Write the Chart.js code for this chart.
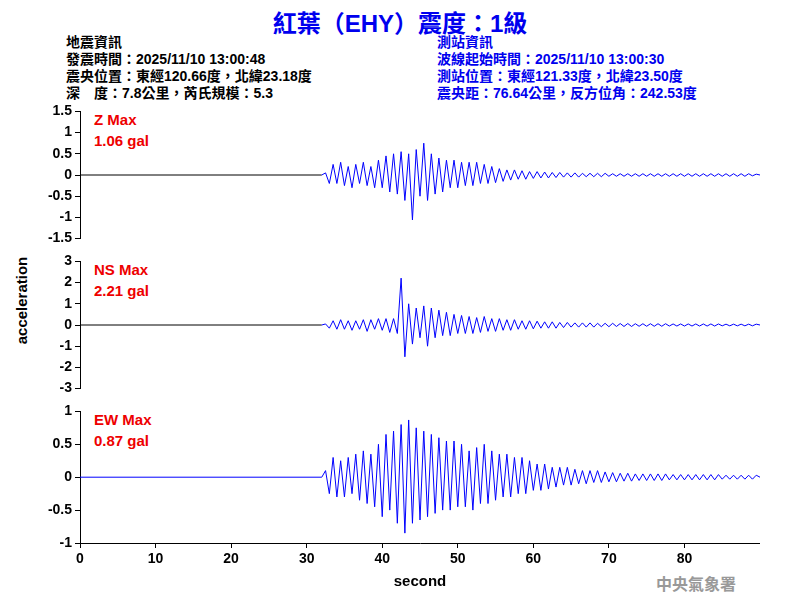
<!DOCTYPE html>
<html><head><meta charset="utf-8">
<script src="https://cdn.jsdelivr.net/npm/chart.js@4.4.0/dist/chart.umd.min.js"></script>
<style>
body{margin:0;width:800px;height:600px;background:#fff;position:relative;overflow:hidden;font-family:"Liberation Sans","Noto Sans CJK TC",sans-serif;}
.t{position:absolute;font-weight:bold;white-space:nowrap;}
canvas{position:absolute;}
</style></head><body>
<div class="t" style="left:0;width:800px;text-align:center;top:4px;font-size:24px;color:#0000ee;">紅葉（EHY）震度：1級</div>
<div class="t" style="left:66px;top:34px;font-size:14px;line-height:17px;color:#000;">地震資訊<br>發震時間：2025/11/10 13:00:48<br>震央位置：東經120.66度，北緯23.18度<br>深　度：7.8公里，芮氏規模：5.3</div>
<div class="t" style="left:437px;top:34px;font-size:14px;line-height:17px;color:#0000ee;">測站資訊<br>波線起始時間：2025/11/10 13:00:30<br>測站位置：東經121.33度，北緯23.50度<br>震央距：76.64公里，反方位角：242.53度</div>
<div class="t" style="left:94px;top:109px;font-size:15px;line-height:21px;color:#ee0000;">Z Max<br>1.06 gal</div>
<div class="t" style="left:94px;top:259px;font-size:15px;line-height:21px;color:#ee0000;">NS Max<br>2.21 gal</div>
<div class="t" style="left:94px;top:409px;font-size:15px;line-height:21px;color:#ee0000;">EW Max<br>0.87 gal</div>
<div class="t" style="left:-22px;top:292px;font-size:15px;transform:rotate(-90deg);color:#000;">acceleration</div>
<div class="t" style="left:656px;top:571px;font-size:16px;color:#999;font-family:'Noto Sans CJK TC';">中央氣象署</div>
<canvas id="cz" style="left:0;top:100px;width:760px;height:150px;"></canvas>
<canvas id="cns" style="left:0;top:250px;width:760px;height:150px;"></canvas>
<canvas id="cew" style="left:0;top:400px;width:760px;height:195px;"></canvas>
<script>
const tStart = 32, tStep = 0.5;
const zVals = [0,0.05,-0.2,0.25,-0.2,0.3,-0.25,0.2,-0.3,0.25,
 -0.2,0.3,-0.25,0.2,-0.3,0.35,-0.3,0.45,-0.4,0.5,
 -0.45,0.55,-0.6,0.5,-1.06,0.6,-0.5,0.75,-0.6,0.5,
 -0.45,0.4,-0.4,0.35,-0.3,0.35,-0.3,0.3,-0.25,0.3,
 -0.25,0.3,-0.2,0.25,-0.2,0.2,-0.18,0.15,-0.15,0.12,
 -0.12,0.12,-0.1,0.1,-0.1,0.08,-0.08,0.08,-0.07,0.07,
 -0.07,0.06,-0.06,0.06,-0.05,0.05,-0.05,0.05,-0.05,0.04,
 -0.04,0.04,-0.04,0.04,-0.04,0.04,-0.03,0.03,-0.03,0.03,
 -0.03,0.03,-0.03,0.03,-0.03,0.03,-0.03,0.03,-0.03,0.03,
 -0.03,0.03,-0.03,0.03,-0.03,0.03,-0.03,0.03,-0.03,0.03,
 -0.03,0.03,-0.03,0.03,-0.03,0.03,-0.03,0.03,-0.03,0.03,
 -0.03,0.03,-0.03,0.03,-0.02,0.02,0];
const nsVals = [0,0.05,-0.15,0.2,-0.2,0.25,-0.2,0.2,-0.25,0.2,
 -0.2,0.25,-0.3,0.25,-0.2,0.3,-0.25,0.3,-0.35,0.3,
 -0.4,2.21,-1.5,1.0,-0.9,0.8,-0.6,0.9,-1.0,0.8,
 -0.6,0.7,-0.5,0.6,-0.5,0.5,-0.4,0.45,-0.4,0.4,
 -0.4,0.35,-0.35,0.4,-0.3,0.3,-0.3,0.3,-0.25,0.25,
 -0.25,0.25,-0.2,0.2,-0.2,0.2,-0.18,0.18,-0.15,0.15,
 -0.15,0.15,-0.15,0.12,-0.12,0.12,-0.1,0.1,-0.1,0.1,
 -0.1,0.1,-0.1,0.08,-0.08,0.08,-0.08,0.08,-0.07,0.07,
 -0.07,0.07,-0.07,0.06,-0.06,0.06,-0.06,0.06,-0.06,0.06,
 -0.06,0.06,-0.05,0.05,-0.05,0.05,-0.05,0.05,-0.05,0.05,
 -0.05,0.05,-0.05,0.05,-0.05,0.05,-0.04,0.04,-0.04,0.04,
 -0.04,0.04,-0.04,0.04,-0.04,0.04,0];
const ewVals = [0,0.1,-0.25,0.3,-0.3,0.25,-0.3,0.3,-0.25,0.35,
 -0.35,0.4,-0.4,0.35,-0.45,0.5,-0.6,0.65,-0.5,0.7,
 -0.7,0.8,-0.85,0.87,-0.7,0.75,-0.65,0.7,-0.6,0.65,
 -0.55,0.6,-0.5,0.55,-0.5,0.55,-0.45,0.5,-0.45,0.4,
 -0.5,0.45,-0.4,0.5,-0.4,0.4,-0.35,0.35,-0.3,0.35,
 -0.3,0.3,-0.25,0.3,-0.25,0.25,-0.2,0.2,-0.2,0.2,
 -0.18,0.15,-0.15,0.15,-0.12,0.15,-0.12,0.12,-0.1,0.1,
 -0.1,0.1,-0.08,0.1,-0.08,0.08,-0.07,0.07,-0.07,0.06,
 -0.06,0.06,-0.06,0.05,-0.05,0.05,-0.05,0.05,-0.05,0.05,
 -0.05,0.05,-0.04,0.04,-0.04,0.04,-0.04,0.04,-0.04,0.04,
 -0.04,0.04,-0.04,0.04,-0.04,0.04,-0.03,0.03,-0.03,0.03,
 -0.03,0.03,-0.03,0.03,-0.03,0.03,0];
const xTicks = [0,10,20,30,40,50,60,70,80];
const tickFont = { family: 'Liberation Sans', size: 14, weight: 'bold' };

function makePanel(id, vals, yMin, yMax, yStep, baseColor, showX) {
    const pts = vals.map((v, i) => ({ x: tStart + i * tStep, y: v }));
    const ctx = document.getElementById(id);
    return new Chart(ctx, {
        type: 'line',
        data: { datasets: [
            { data: pts, borderColor: '#0000ff', borderWidth: 1, pointRadius: 0, tension: 0 },
            { data: [{ x: 0, y: 0 }, { x: tStart, y: 0 }], borderColor: baseColor, borderWidth: 1, pointRadius: 0 }
        ] },
        options: {
            responsive: false, animation: false,
            layout: { padding: { top: 6, bottom: showX ? 0 : 2, left: 0, right: 0 } },
            plugins: { legend: { display: false }, tooltip: { enabled: false } },
            scales: {
                x: {
                    type: 'linear', min: 0, max: 90, display: showX,
                    afterFit: s => { if (showX) s.height = 52; else s.height = 0; },
                    afterBuildTicks: s => { s.ticks = xTicks.map(v => ({ value: v })); },
                    ticks: { color: '#000', font: tickFont, maxRotation: 0 },
                    grid: { drawOnChartArea: false, color: '#000', tickLength: 5 },
                    border: { color: '#000' },
                    title: { display: true, text: 'second', color: '#000', font: { family: 'Liberation Sans', size: 15, weight: 'bold' }, padding: { top: 0, bottom: 4 } }
                },
                y: {
                    min: yMin, max: yMax,
                    afterFit: s => { s.width = 80; },
                    ticks: { stepSize: yStep, autoSkip: false, color: '#000', font: tickFont, callback: v => String(Math.round(v * 10) / 10) },
                    grid: { drawOnChartArea: false, color: '#000', tickLength: 5 },
                    border: { color: '#000' }
                }
            }
        }
    });
}
[['cz',150],['cns',150],['cew',195]].forEach(([id,h]) => { const c = document.getElementById(id); c.width = 760; c.height = h; });
makePanel('cz', zVals, -1.5, 1.5, 0.5, '#000', false);
makePanel('cns', nsVals, -3, 3, 1, '#000', false);
makePanel('cew', ewVals, -1, 1, 0.5, '#0000ff', true);
</script>
</body></html>
